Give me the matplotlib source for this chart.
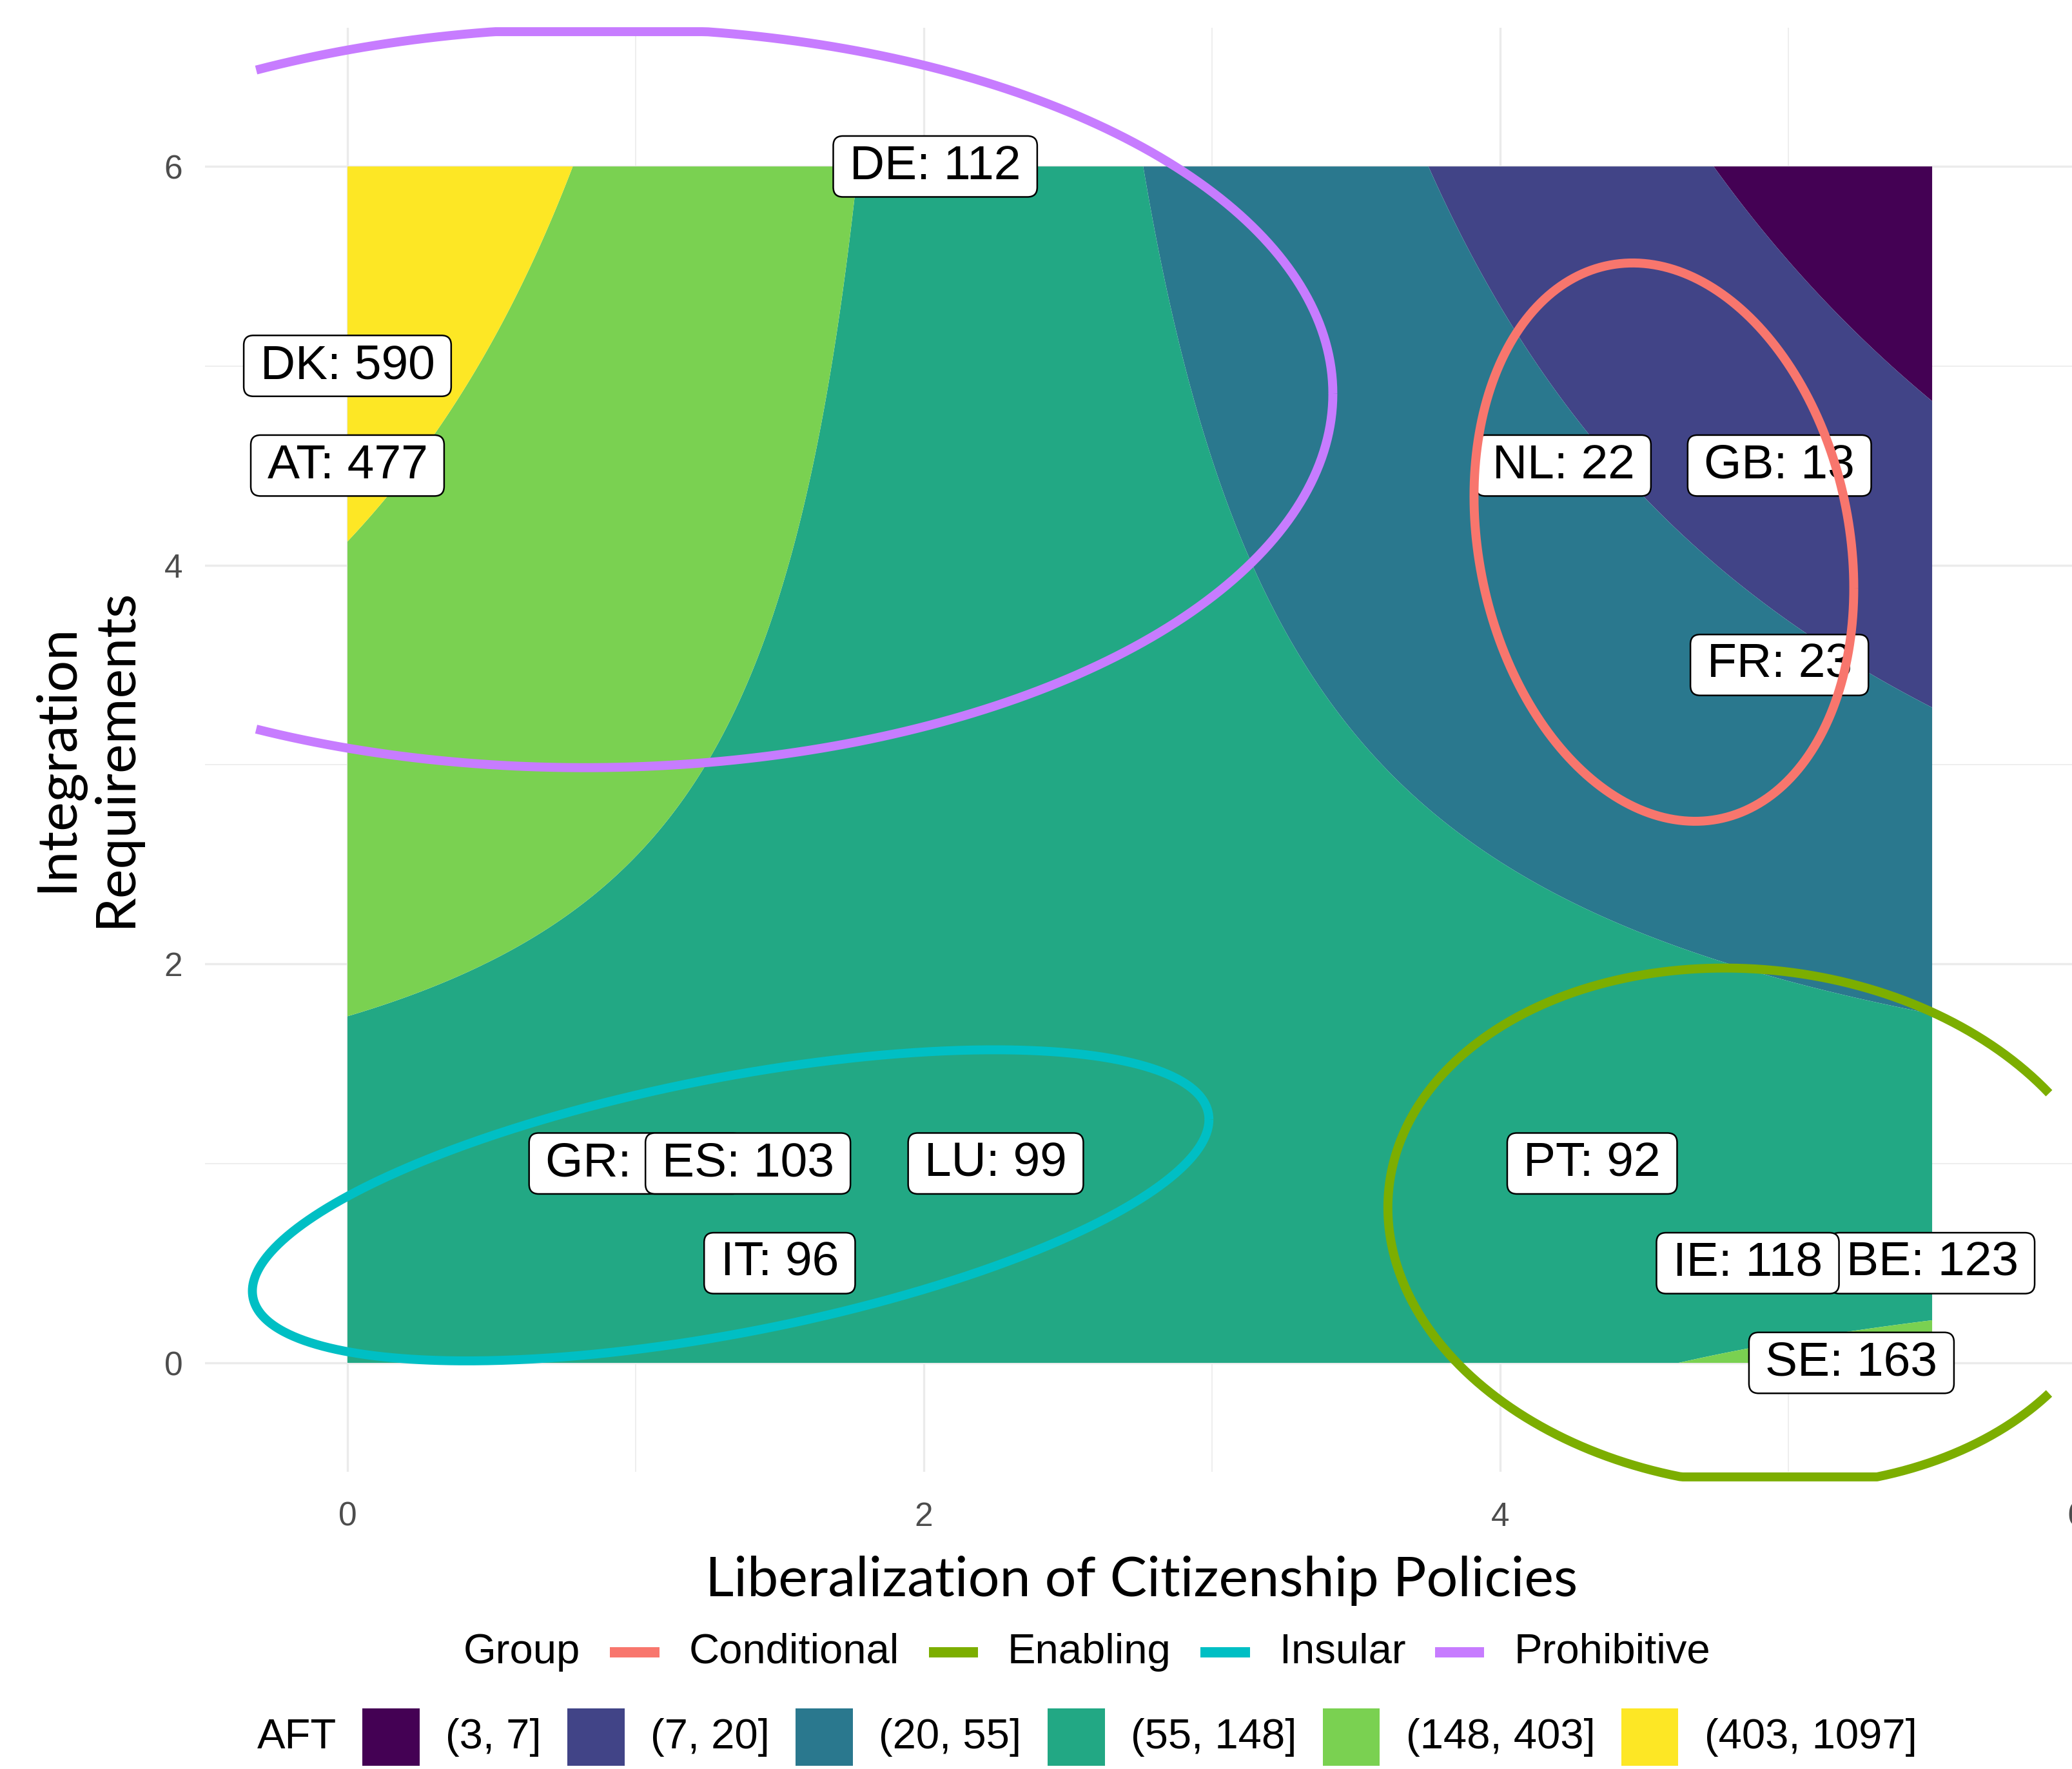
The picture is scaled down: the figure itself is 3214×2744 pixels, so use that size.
import numpy as np
import matplotlib
matplotlib.use('Agg')
import matplotlib.pyplot as plt
from matplotlib.patches import BoxStyle, Rectangle
from matplotlib.lines import Line2D
from matplotlib.offsetbox import HPacker, TextArea, DrawingArea, AnchoredOffsetbox

# fitted surface, log(AFT) = b0 + b1*x + b2*y + b3*x*y
b0, b1, b2, b3 = 4.27, 0.158, 0.42, -0.1947
x_span = (0, 5.5)
y_span = (0, 6)

log_breaks = [1, 2, 3, 4, 5, 6, 7]
aft_labels = ['(3, 7]', '(7, 20]', '(20, 55]', '(55, 148]', '(148, 403]', '(403, 1097]']
aft_colors = ['#440154', '#414487', '#2A788E', '#22A884', '#7AD151', '#FDE725']

# group ellipses: centre, half extents and phase (x = cx + rx cos t, y = cy + ry cos(t + phase))
groups = ['Conditional', 'Enabling', 'Insular', 'Prohibitive']
group_colors = ['#F8766D', '#7CAE00', '#00BFC4', '#C77CFF']
ell_cx = [4.569, 4.876, 1.33, 0.85]
ell_cy = [4.116, 0.68, 0.79, 4.84]
ell_rx = [0.659, 1.265, 1.66, 2.57]
ell_ry = [1.40, 1.30, 0.78, 1.855]
ell_phase = [1.736, 1.647, 0.987, 1.56]
x_keep = (-0.333, 5.91)
y_squish = (-0.572, 6.676)

# country labels
countries = ['DE', 'DK', 'AT', 'NL', 'GB', 'FR', 'PT', 'BE', 'IE', 'SE', 'GR', 'ES', 'LU', 'IT']
aft_values = [112, 590, 477, 22, 13, 23, 92, 123, 118, 163, 105, 103, 99, 96]
liberal = [2.04, 0, 0, 4.22, 4.97, 4.97, 4.32, 5.5, 4.86, 5.22, 1.0, 1.39, 2.25, 1.5]
integ = [6, 5, 4.5, 4.5, 4.5, 3.5, 1, 0.5, 0.5, 0, 1, 1, 1, 0.5]

fig = plt.figure(figsize=(32.14, 27.44), dpi=100)
ax = fig.add_axes([0.09894, 0.168, 0.90448, 0.81633])
ax.set_xlim(-0.4944, 6.01)
ax.set_ylim(-0.5464, 6.6958)

gx = np.linspace(x_span[0], x_span[1], 500)
gy = np.linspace(y_span[0], y_span[1], 500)
X, Y = np.meshgrid(gx, gy)
Z = b0 + b1 * X + b2 * Y + b3 * X * Y
ax.contourf(X, Y, Z, levels=log_breaks, colors=aft_colors, zorder=1, antialiased=True)


def label_box(x0, y0, width, height, mutation_size):
    extra = 0.17 * mutation_size
    return BoxStyle.Round(pad=0.17, rounding_size=0.2)(x0 - extra, y0, width + 2 * extra,
                                                       height, mutation_size)


for c, v, x, y in zip(countries, aft_values, liberal, integ):
    ax.text(x, y, f'{c}: {v}', ha='center', va='center', fontsize=54,
            family='Liberation Sans', color='black', zorder=5,
            bbox=dict(boxstyle=label_box, fc='white', ec='black', lw=1.8))

t = np.linspace(0, 2 * np.pi, 721)
for i in range(len(groups)):
    ex = ell_cx[i] + ell_rx[i] * np.cos(t)
    ey = ell_cy[i] + ell_ry[i] * np.cos(t + ell_phase[i])
    ey = np.clip(ey, y_squish[0], y_squish[1])
    ex = np.where((ex < x_keep[0]) | (ex > x_keep[1]), np.nan, ex)
    ax.plot(ex, ey, color=group_colors[i], lw=10, solid_capstyle='butt',
            zorder=6, clip_on=False)

ax.set_xticks([0, 2, 4, 6])
ax.set_yticks([0, 2, 4, 6])
ax.set_xticks([1, 3, 5], minor=True)
ax.set_yticks([1, 3, 5], minor=True)
ax.set_axisbelow(True)
ax.grid(which='major', color='#EBEBEB', lw=2.4)
ax.grid(which='minor', color='#EBEBEB', lw=1.2)
ax.tick_params(which='both', length=0, labelsize=37, labelcolor='#4D4D4D')
ax.tick_params(axis='x', pad=33)
ax.tick_params(axis='y', pad=25)
for lab in ax.get_xticklabels() + ax.get_yticklabels():
    lab.set_family('Liberation Sans')
for s in ax.spines.values():
    s.set_visible(False)

fig.text(0.551, 0.0977, 'Liberalization of Citizenship Policies', ha='center',
         va='baseline', fontsize=62, family='Lato')
fig.text(0.0414, 0.5714, 'Integration\nRequirements', rotation=90, ha='center',
         va='center', fontsize=62, family='Lato', linespacing=1.2, multialignment='center')

leg_font = dict(fontsize=47, family='Liberation Sans', color='black')

row1 = [TextArea('Group', textprops=leg_font)]
for col, name in zip(group_colors, groups):
    da = DrawingArea(55, 20)
    da.add_artist(Line2D([0, 55], [10, 10], color=col, lw=11.5, solid_capstyle='butt'))
    row1 += [da, TextArea(name, textprops=leg_font)]
box1 = HPacker(children=row1, align='center', pad=0, sep=33)

row2 = [TextArea('AFT', textprops=leg_font)]
for col, name in zip(aft_colors, aft_labels):
    da = DrawingArea(64, 64)
    da.add_artist(Rectangle((0, 0), 64, 64, fc=col, ec='none'))
    row2 += [da, TextArea(name, textprops=leg_font)]
box2 = HPacker(children=row2, align='center', pad=0, sep=29)

for box, yc in [(box1, 0.066), (box2, 0.0179)]:
    anch = AnchoredOffsetbox(loc='center', child=box, frameon=False, pad=0, borderpad=0,
                             bbox_to_anchor=(0.5246, yc), bbox_transform=fig.transFigure)
    fig.add_artist(anch)

fig.savefig('out.png', dpi=100, facecolor='white')
